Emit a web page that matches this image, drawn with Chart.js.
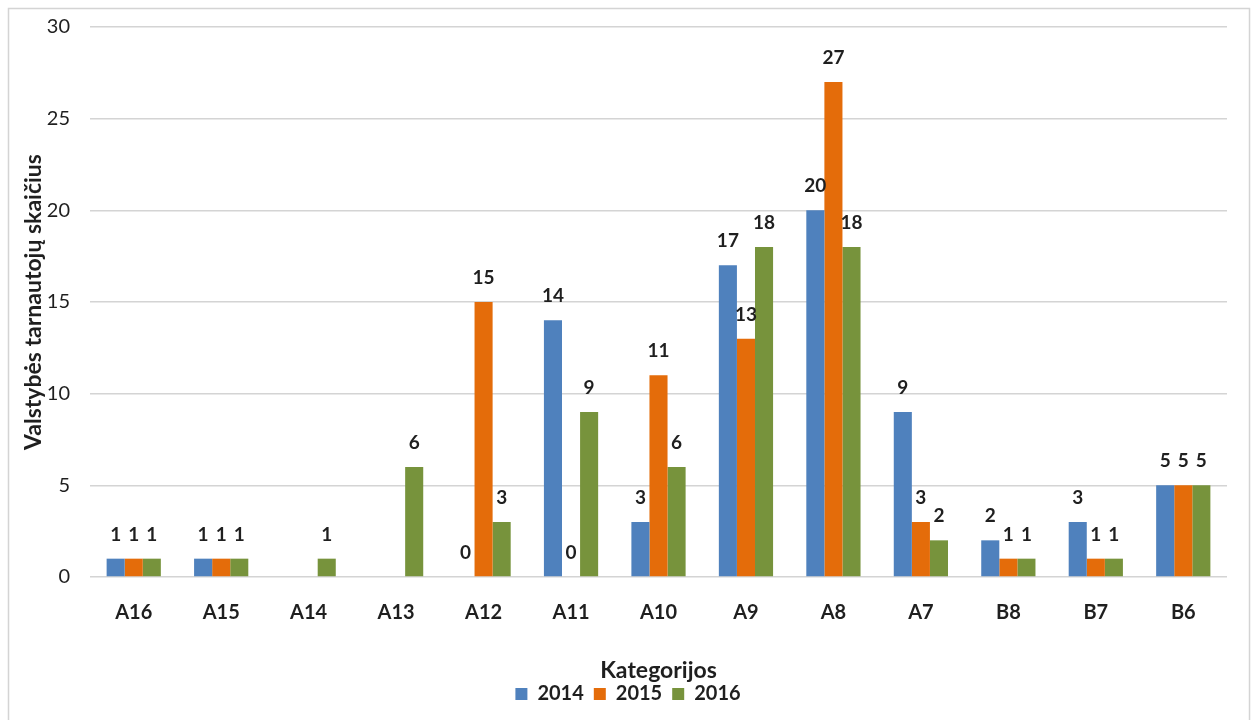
<!DOCTYPE html>
<html lang="lt">
<head>
  <meta charset="UTF-8">
  <title>Valstybės tarnautojų skaičius</title>
  <script src="https://cdn.jsdelivr.net/npm/chart.js"></script>
  <style>
    html, body { margin: 0; padding: 0; background: #fff; }
    #wrap { width: 1253px; height: 720px; }
  </style>
</head>
<body>
<div id="wrap">
  <canvas id="chart" width="1253" height="720"></canvas>
</div>

<script>
  const categories = ['A16', 'A15', 'A14', 'A13', 'A12', 'A11', 'A10', 'A9', 'A8', 'A7', 'B8', 'B7', 'B6'];
  const values2014 = [1, 1, null, null, 0, 14, 3, 17, 20, 9, 2, 3, 5];
  const values2015 = [1, 1, null, null, 15, 0, 11, 13, 27, 3, 1, 1, 5];
  const values2016 = [1, 1, 1, 6, 3, 9, 6, 18, 18, 2, 1, 1, 5];
  const yTicks = [0, 5, 10, 15, 20, 25, 30];

  const FONT = 'Lato, "DejaVu Sans", sans-serif';
  const TEXT = '#1f1f1f';

  // value labels above the bars
  const barLabels = {
    id: 'barLabels',
    afterDatasetsDraw(chart) {
      const ctx = chart.ctx;
      ctx.save();
      ctx.font = 'bold 19px ' + FONT;
      ctx.fillStyle = TEXT;
      ctx.textAlign = 'center';
      ctx.textBaseline = 'alphabetic';
      chart.data.datasets.forEach((ds, i) => {
        const meta = chart.getDatasetMeta(i);
        meta.data.forEach((bar, j) => {
          const v = ds.data[j];
          if (v === null || v === undefined) return;
          ctx.fillText(String(v), bar.x, bar.y - 18);
        });
      });
      ctx.restore();
    }
  };

  // thin grey frame round the whole chart
  const frame = {
    id: 'frame',
    beforeDraw(chart) {
      const ctx = chart.ctx;
      ctx.save();
      ctx.strokeStyle = '#d4d4d4';
      ctx.lineWidth = 1.5;
      ctx.strokeRect(8.5, 8.5, 1241, 730);
      ctx.restore();
    }
  };

  const chart = new Chart(document.getElementById('chart'), {
    type: 'bar',
    data: {
      labels: categories,
      datasets: [
        { label: '2014', data: values2014, backgroundColor: '#4f81bd' },
        { label: '2015', data: values2015, backgroundColor: '#e46c0a' },
        { label: '2016', data: values2016, backgroundColor: '#77933c' }
      ]
    },
    options: {
      responsive: false,
      animation: false,
      layout: { padding: { top: 27, right: 26, bottom: 6, left: 29 } },
      datasets: {
        bar: { barPercentage: 1, categoryPercentage: 0.62 }
      },
      scales: {
        x: {
          afterFit(scale) { scale.height = 97; },
          grid: { display: false, drawTicks: false },
          border: { display: false },
          ticks: { padding: 24, color: TEXT, font: { family: FONT, size: 20, weight: 'bold' } },
          title: {
            display: true,
            text: 'Kategorijos',
            color: TEXT,
            padding: { top: 0, bottom: -10 },
            font: { family: FONT, size: 23, weight: 'bold' }
          }
        },
        y: {
          min: 0,
          max: 30,
          afterFit(scale) {
            scale.width = 61;
            // tick padding would otherwise push the plot top down
            scale.paddingTop = 5;
            scale.paddingBottom = 5;
          },
          afterBuildTicks(scale) { scale.ticks = yTicks.map(v => ({ value: v })); },
          grid: { color: '#d4d4d4', lineWidth: 1.5, drawTicks: false },
          border: { display: false },
          ticks: { padding: 20, color: TEXT, font: { family: FONT, size: 20 } },
          title: {
            display: true,
            text: 'Valstybės tarnautojų skaičius',
            color: TEXT,
            padding: { top: -9, bottom: 0 },
            font: { family: FONT, size: 23, weight: 'bold' }
          }
        }
      },
      plugins: {
        legend: {
          position: 'bottom',
          labels: {
            boxWidth: 12,
            boxHeight: 12,
            padding: 10,
            color: TEXT,
            font: { family: FONT, size: 20, weight: 'bold' }
          }
        },
        tooltip: { enabled: false }
      }
    },
    plugins: [barLabels, frame]
  });
</script>
</body>
</html>
